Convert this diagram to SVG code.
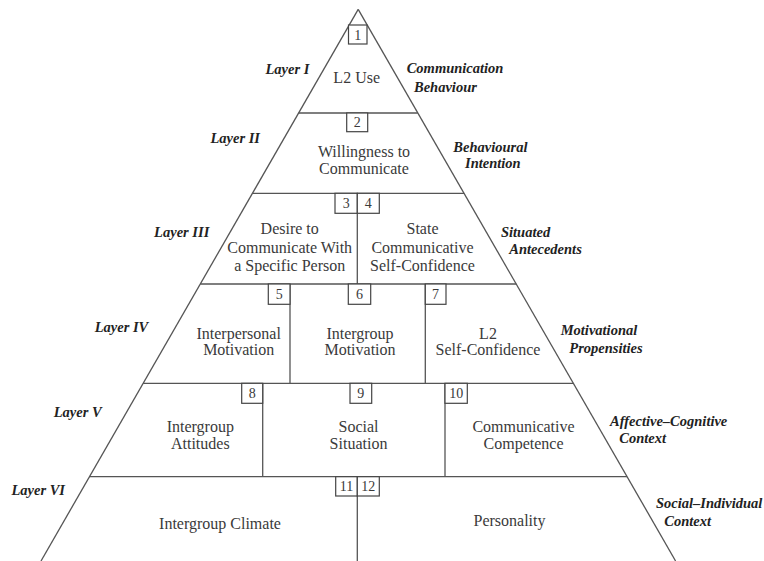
<svg xmlns="http://www.w3.org/2000/svg" width="764" height="561" viewBox="0 0 764 561">
<style>
.ln{stroke:#555;stroke-width:1.3;fill:none}
.bx{stroke:#444;stroke-width:1.2;fill:#fff}
.t{font-family:"Liberation Serif",serif;font-size:16px;fill:#3a3a3a;text-anchor:middle}
.n{font-family:"Liberation Serif",serif;font-size:14px;fill:#3a3a3a;text-anchor:middle}
.l{font-family:"Liberation Serif",serif;font-size:14.5px;font-weight:bold;font-style:italic;fill:#222}
.e{text-anchor:end}
</style>
<rect width="764" height="561" fill="#fff"/>
<g id="connectors">
<line class="ln" x1="358.2" y1="9.4" x2="41" y2="561"/>
<line class="ln" x1="358.2" y1="9.4" x2="675.6" y2="561"/>
<line class="ln" x1="298.6" y1="113" x2="417.8" y2="113"/>
<line class="ln" x1="252.5" y1="193.3" x2="464" y2="193.3"/>
<line class="ln" x1="200.3" y1="284" x2="516.2" y2="284"/>
<line class="ln" x1="143.1" y1="383.3" x2="573.5" y2="383.3"/>
<line class="ln" x1="89.5" y1="476.7" x2="627" y2="476.7"/>
<line class="ln" x1="357.3" y1="193.3" x2="357.3" y2="284"/>
<line class="ln" x1="290" y1="284" x2="290" y2="383.3"/>
<line class="ln" x1="425.3" y1="284" x2="425.3" y2="383.3"/>
<line class="ln" x1="262.7" y1="383.3" x2="262.7" y2="476.7"/>
<line class="ln" x1="445" y1="383.3" x2="445" y2="476.7"/>
<line class="ln" x1="357.3" y1="476.7" x2="357.3" y2="561"/>
</g>
<g id="n1">
<rect class="bx" x="348.5" y="25" width="18.5" height="19"/>
<text class="n" x="357.7" y="39.5">1</text>
<text class="t" x="356.7" y="83">L2 Use</text>
</g>
<g id="n2">
<rect class="bx" x="346.7" y="113" width="21" height="18.7"/>
<text class="n" x="357.2" y="127.3">2</text>
<text class="t" x="364" y="157">Willingness to</text>
<text class="t" x="364" y="173.5">Communicate</text>
</g>
<g id="n3">
<rect class="bx" x="335" y="193.3" width="22.3" height="20"/>
<text class="n" x="346.2" y="208.3">3</text>
<text class="t" x="289.7" y="233.5">Desire to</text>
<text class="t" x="289.7" y="252.8">Communicate With</text>
<text class="t" x="289.7" y="271">a Specific Person</text>
</g>
<g id="n4">
<rect class="bx" x="357.3" y="193.3" width="22" height="20"/>
<text class="n" x="368.3" y="208.3">4</text>
<text class="t" x="422.5" y="233.5">State</text>
<text class="t" x="422.5" y="252.8">Communicative</text>
<text class="t" x="422.5" y="271">Self-Confidence</text>
</g>
<g id="n5">
<rect class="bx" x="268.3" y="284" width="21.7" height="20.3"/>
<text class="n" x="279.2" y="299.2">5</text>
<text class="t" x="238.7" y="339.3">Interpersonal</text>
<text class="t" x="238.7" y="355.3">Motivation</text>
</g>
<g id="n6">
<rect class="bx" x="348.3" y="284" width="22.4" height="20.3"/>
<text class="n" x="359.5" y="299.2">6</text>
<text class="t" x="360" y="339.3">Intergroup</text>
<text class="t" x="360" y="355.3">Motivation</text>
</g>
<g id="n7">
<rect class="bx" x="425.3" y="284" width="20.7" height="20.3"/>
<text class="n" x="435.6" y="299.2">7</text>
<text class="t" x="488" y="339.3">L2</text>
<text class="t" x="488" y="355.3">Self-Confidence</text>
</g>
<g id="n8">
<rect class="bx" x="241.7" y="383.3" width="21" height="20"/>
<text class="n" x="252.2" y="398.3">8</text>
<text class="t" x="200.3" y="432">Intergroup</text>
<text class="t" x="200.3" y="449.3">Attitudes</text>
</g>
<g id="n9">
<rect class="bx" x="350" y="383.3" width="21.7" height="20"/>
<text class="n" x="360.8" y="398.3">9</text>
<text class="t" x="358.5" y="432">Social</text>
<text class="t" x="358.5" y="449.3">Situation</text>
</g>
<g id="n10">
<rect class="bx" x="445" y="383.3" width="22.3" height="20"/>
<text class="n" x="456.2" y="398.3">10</text>
<text class="t" x="523.5" y="432">Communicative</text>
<text class="t" x="523.5" y="449.3">Competence</text>
</g>
<g id="n11">
<rect class="bx" x="335.7" y="476.7" width="21.6" height="19.3"/>
<text class="n" x="346.5" y="491.3">11</text>
<text class="t" x="220" y="528.5">Intergroup Climate</text>
</g>
<g id="n12">
<rect class="bx" x="357.3" y="476.7" width="22" height="19.3"/>
<text class="n" x="368.3" y="491.3">12</text>
<text class="t" x="509.5" y="526">Personality</text>
</g>
<g id="labels">
<text class="l e" x="309.3" y="74">Layer I</text>
<text class="l e" x="260" y="142.7">Layer II</text>
<text class="l e" x="209.3" y="236.7">Layer III</text>
<text class="l e" x="148.3" y="331.7">Layer IV</text>
<text class="l e" x="101.7" y="416.7">Layer V</text>
<text class="l e" x="65" y="495">Layer VI</text>
<text class="l" x="406.7" y="73.3">Communication</text>
<text class="l" x="414" y="91.7">Behaviour</text>
<text class="l" x="453.3" y="151.7">Behavioural</text>
<text class="l" x="465" y="168.3">Intention</text>
<text class="l" x="501" y="236.7">Situated</text>
<text class="l" x="509.3" y="254.3">Antecedents</text>
<text class="l" x="560.7" y="335">Motivational</text>
<text class="l" x="569.3" y="352.7">Propensities</text>
<text class="l" x="610" y="425.7">Affective–Cognitive</text>
<text class="l" x="619.3" y="443.3">Context</text>
<text class="l" x="656" y="507.7">Social–Individual</text>
<text class="l" x="664.3" y="525.7">Context</text>
</g>
</svg>
